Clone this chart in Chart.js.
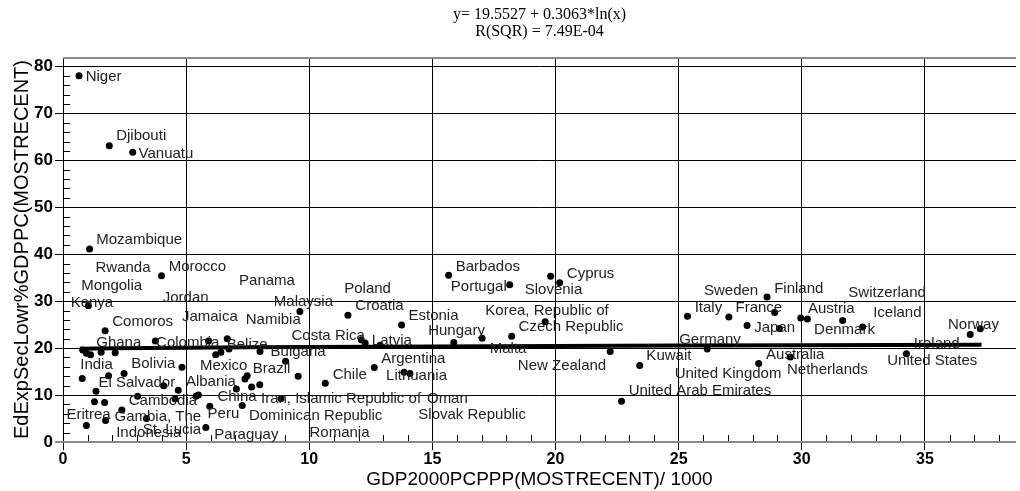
<!DOCTYPE html>
<html>
<head>
<meta charset="utf-8">
<script src="https://cdn.jsdelivr.net/npm/chart.js@4"></script>
<style>
  html, body { margin: 0; padding: 0; background: #fff; }
  #wrap { width: 1020px; height: 491px; position: relative; }
</style>
</head>
<body>
<div id="wrap"><canvas id="scatter"></canvas></div>
<script>
// country points: GDP per capita (PPP, thousands) vs spending on lower secondary
const gdpX = [0.65, 1.88, 2.83, 1.08, 4.0, 1.03, 9.62, 1.71, 3.75, 5.91, 6.67,
  0.80, 0.95, 1.12, 1.55, 2.12, 4.83, 0.78, 1.85, 2.48, 1.34, 4.09, 4.68, 4.55,
  1.28, 1.69, 3.03, 5.40, 5.50, 2.39, 3.39, 0.95, 1.73, 5.80, 5.96, 7.28, 6.2,
  6.41, 6.74, 8.0, 9.04, 9.55, 10.65, 7.48, 7.39, 7.66, 7.99, 7.04, 8.85, 11.57,
  13.75, 12.11, 12.27, 12.88, 12.64, 13.85, 14.09, 15.87, 17.02, 18.22, 15.66,
  18.14, 19.8, 20.17, 19.58, 22.22, 23.42, 22.68, 25.36, 27.04, 26.16, 27.78,
  28.59, 28.9, 29.09, 29.96, 30.23, 31.66, 32.47, 28.25, 29.53, 34.25, 36.84, 37.25];
const eduY = [78.0, 63.1, 61.7, 41.1, 35.4, 29.0, 27.8, 23.7, 21.5, 21.5, 22.0,
  19.6, 18.9, 18.6, 19.1, 19.0, 15.9, 13.5, 14.1, 14.6, 10.8, 12.0, 11.0, 9.2,
  8.55, 8.4, 9.75, 9.75, 10.0, 6.8, 5.0, 3.5, 4.6, 3.1, 7.6, 7.8, 18.6,
  19.1, 19.8, 19.3, 17.2, 14.0, 12.5, 14.1, 13.4, 11.7, 12.2, 11.3, 9.25, 27.0,
  24.9, 21.8, 21.1, 20.6, 15.85, 14.85, 14.6, 21.2, 22.1, 22.5, 35.5,
  33.5, 35.3, 33.9, 25.6, 19.3, 16.3, 8.7, 26.8, 26.6, 19.8, 24.8,
  30.9, 27.6, 24.2, 26.4, 26.2, 25.9, 24.5, 16.7, 18.1, 18.8, 22.9, 24.1];

// fitted curve as it appears on the picture
const fitX = [0.68, 2, 5, 10, 20, 30, 37.3];
const fitY = [19.85, 19.95, 20.1, 20.25, 20.45, 20.6, 20.7];

// country names and where their text sits (data units, left edge / middle)
const labelText = ['Niger', 'Djibouti', 'Vanuatu', 'Mozambique', 'Rwanda', 'Morocco',
  'Mongolia', 'Kenya', 'Jordan', 'Panama', 'Malaysia', 'Comoros', 'Jamaica', 'Namibia',
  'Ghana', 'Colombia', 'Belize', 'Costa Rica', 'Bulgaria', 'India', 'Bolivia', 'Mexico',
  'Brazil', 'El Salvador', 'Albania', 'Chile', 'Argentina', 'Lithuania', 'Cambodia',
  'China', 'Iran, Islamic Republic of', 'Oman', 'Eritrea', 'Gambia, The', 'Peru',
  'Dominican Republic', 'Indonesia', 'St. Lucia', 'Paraguay', 'Romania', 'Slovak Republic',
  'Poland', 'Croatia', 'Estonia', 'Latvia', 'Hungary', 'Malta', 'Barbados', 'Portugal',
  'Slovenia', 'Cyprus', 'Korea, Republic of', 'Czech Republic', 'New Zealand', 'Kuwait',
  'United Arab Emirates', 'Italy', 'France', 'Germany', 'United Kingdom', 'Sweden',
  'Finland', 'Japan', 'Austria', 'Denmark', 'Switzerland', 'Iceland', 'Australia',
  'Netherlands', 'Norway', 'Ireland', 'United States'];
const labelX = [0.92, 2.16, 3.07, 1.35, 1.32, 4.29, 0.74, 0.31, 4.05, 7.15, 8.56, 2.0,
  4.83, 7.42, 1.35, 3.78, 6.65, 9.28, 8.43, 0.70, 2.77, 5.56, 7.71, 1.44, 4.99, 10.95,
  12.92, 13.12, 2.67, 6.27, 8.04, 14.78, 0.14, 2.09, 5.87, 7.55, 2.16, 3.24, 6.14, 10.01,
  14.43, 11.42, 11.87, 14.03, 12.54, 14.83, 17.33, 15.95, 15.75, 18.75, 20.46, 17.15,
  18.5, 18.47, 23.69, 22.97, 25.65, 27.31, 25.02, 24.84, 26.03, 28.88, 28.07, 30.25,
  30.5, 31.89, 32.9, 28.55, 29.4, 35.94, 34.55, 33.47];
const labelY = [77.8, 65.1, 61.4, 43.1, 37.1, 37.4, 33.3, 29.6, 30.7, 34.4, 29.8, 25.6,
  26.6, 26.1, 21.2, 21.2, 20.7, 22.7, 19.3, 16.5, 16.6, 16.3, 15.6, 12.6, 12.9, 14.4,
  17.8, 14.1, 8.7, 9.7, 9.26, 9.26, 5.7, 5.3, 6.0, 5.6, 1.95, 2.66, 1.6, 1.95,
  5.85, 32.6, 28.9, 26.9, 21.45, 23.6, 19.8, 37.4, 33.1, 32.4, 35.85, 28.0,
  24.5, 16.3, 18.3, 10.8, 28.55, 28.5, 21.8, 14.6, 32.2, 32.7, 24.4, 28.3,
  23.9, 31.7, 27.5, 18.6, 15.3, 25.0, 20.9, 17.2];

const xTickVals = [0, 5, 10, 15, 20, 25, 30, 35];
const yTickVals = [0, 10, 20, 30, 40, 50, 60, 70, 80];

const titleLines = ['y= 19.5527 + 0.3063*ln(x)', 'R(SQR) = 7.49E-04'];
const xTitle = 'GDP2000PCPPP(MOSTRECENT)/ 1000';
const yTitle = 'EdExpSecLowr%GDPPC(MOSTRECENT)';

const X_MAX = 38.7;
const Y_MAX = 82.0;
const SANS = 'Arial, "Liberation Sans", sans-serif';

// ── extras drawn on the canvas: frame, minor ticks, country names, title ──
const decorPlugin = {
  id: 'decor',
  afterDatasetsDraw(chart) {
    const { ctx, chartArea: a, scales: { x, y } } = chart;
    ctx.save();

    // minor ticks
    ctx.strokeStyle = '#000';
    ctx.lineWidth = 1;
    ctx.beginPath();
    for (let v = 1; v < X_MAX; v++) {
      if (v % 5 === 0) continue;
      const px = Math.round(x.getPixelForValue(v)) + 0.5;
      ctx.moveTo(px, a.bottom);
      ctx.lineTo(px, a.bottom - 7);
    }
    for (let v = 2; v < Y_MAX; v += 2) {
      if (v % 10 === 0) continue;
      const py = Math.round(y.getPixelForValue(v)) + 0.5;
      ctx.moveTo(a.left, py);
      ctx.lineTo(a.left + 7, py);
    }
    ctx.stroke();

    // grey frame top and bottom
    ctx.strokeStyle = '#8a8a8a';
    ctx.lineWidth = 2;
    ctx.beginPath();
    ctx.moveTo(a.left, a.top + 1);
    ctx.lineTo(a.right, a.top + 1);
    ctx.moveTo(a.left - 8, a.bottom);
    ctx.lineTo(a.right, a.bottom);
    ctx.stroke();

    // country names
    ctx.fillStyle = '#222';
    ctx.font = '15px ' + SANS;
    ctx.textAlign = 'left';
    ctx.textBaseline = 'middle';
    labelText.forEach((t, i) => {
      ctx.fillText(t, x.getPixelForValue(labelX[i]), y.getPixelForValue(labelY[i]));
    });

    // regression title
    ctx.fillStyle = '#000';
    ctx.font = '16px "Liberation Serif", "Times New Roman", serif';
    ctx.textAlign = 'center';
    const cx = (a.left + a.right) / 2;
    ctx.fillText(titleLines[0], cx, 15);
    ctx.fillText(titleLines[1], cx, 32);
    ctx.restore();
  }
};

function buildChart() {
  const ctx = document.getElementById('scatter');
  const pts = gdpX.map((v, i) => ({ x: v, y: eduY[i] }));
  const fit = fitX.map((v, i) => ({ x: v, y: fitY[i] }));

  new Chart(ctx, {
    type: 'scatter',
    data: {
      datasets: [{
        data: fit,
        showLine: true,
        borderColor: '#000',
        borderWidth: 4,
        pointRadius: 0,
        tension: 0.3
      }, {
        data: pts,
        backgroundColor: '#000',
        borderColor: '#000',
        pointRadius: 3.5,
        borderWidth: 0
      }]
    },
    options: {
      responsive: true,
      maintainAspectRatio: false,
      animation: false,
      layout: { padding: { top: 57, right: 0, left: 0, bottom: 0 } },
      plugins: { legend: { display: false }, tooltip: { enabled: false } },
      scales: {
        x: {
          type: 'linear',
          min: 0,
          max: X_MAX,
          afterBuildTicks: s => { s.ticks = xTickVals.map(v => ({ value: v })); },
          afterFit: s => { s.height = 49; },
          ticks: { color: '#000', padding: 0, font: { family: SANS, size: 16, weight: 'bold' } },
          grid: { color: '#000', lineWidth: 1, tickLength: 8 },
          border: { display: false },
          title: { display: true, text: xTitle, color: '#000', padding: 0, font: { family: SANS, size: 19 } }
        },
        y: {
          type: 'linear',
          min: 0,
          max: Y_MAX,
          afterBuildTicks: s => { s.ticks = yTickVals.map(v => ({ value: v })); },
          afterFit: s => { s.width = 63; },
          ticks: { color: '#000', padding: 2, font: { family: SANS, size: 17, weight: 'bold' } },
          grid: { color: '#000', lineWidth: 1, tickLength: 8 },
          border: { display: false },
          title: { display: true, text: yTitle, color: '#000', padding: { top: 10, bottom: 0 }, font: { family: SANS, size: 20 } }
        }
      }
    },
    plugins: [decorPlugin]
  });
}

document.addEventListener('DOMContentLoaded', buildChart);
</script>
</body>
</html>
